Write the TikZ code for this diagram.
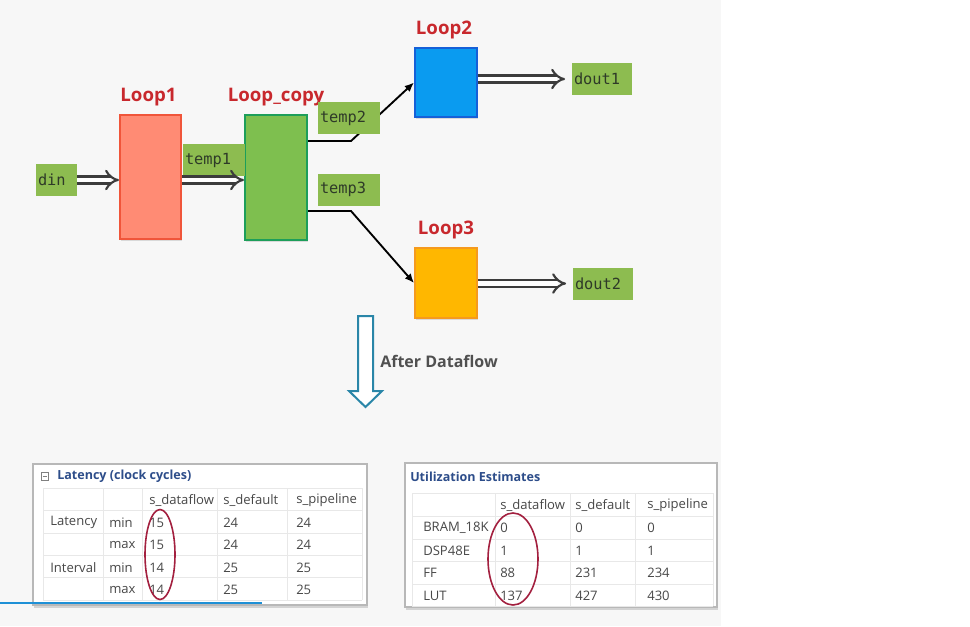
\documentclass[tikz,border=0pt]{standalone}
\usepackage{fontspec}
\setmainfont{Open Sans}
\setmonofont{DejaVu Sans Mono}
\usetikzlibrary{arrows.meta,shadows,calc}
\definecolor{pagebg}{HTML}{F7F7F7}
\definecolor{loopred}{HTML}{C8282D}
\definecolor{lafill}{HTML}{FF8B74}
\definecolor{ladraw}{HTML}{F0553A}
\definecolor{lcfill}{HTML}{7EBF4F}
\definecolor{lcdraw}{HTML}{1D9E5A}
\definecolor{lbfill}{HTML}{0A9BF0}
\definecolor{lbdraw}{HTML}{1560D8}
\definecolor{ldfill}{HTML}{FFB700}
\definecolor{lddraw}{HTML}{F59A1E}
\definecolor{lblgreen}{HTML}{8DBC50}
\definecolor{lbltext}{HTML}{2E3A28}
\definecolor{arrgray}{HTML}{3C3C3C}
\definecolor{downteal}{HTML}{2A86A8}
\definecolor{aftertext}{HTML}{505050}
\definecolor{tabtext}{HTML}{484848}
\definecolor{tabtitle}{HTML}{2D4D8A}
\definecolor{gridline}{HTML}{E8E8E8}
\definecolor{panelline}{HTML}{B8B8B8}
\definecolor{circred}{HTML}{A3203F}
\definecolor{barblue}{HTML}{1E90D6}
\pgfdeclarelayer{bg}
\pgfdeclarelayer{back}
\pgfsetlayers{bg,back,main}
\tikzset{
  loopbox/.style={draw, line width=1.5pt, inner sep=0pt,
    drop shadow={opacity=0.25, shadow xshift=1pt, shadow yshift=-1.5pt}},
  looplbl/.style={font=\bfseries\fontsize{14}{16}\selectfont, text=loopred, anchor=south, inner sep=1pt},
  sig/.style={fill=lblgreen, text=lbltext, font=\ttfamily\fontsize{11.5}{13}\selectfont,
    text width=#1, align=left, inner xsep=1.5pt, inner ysep=0pt, minimum height=24pt},
  dbl/.style={draw=arrgray, double=white, line width=1.6pt, double distance=3.6pt, -{Implies[scale=1.25]}},
  conn/.style={draw=black, line width=1.4pt, -{Latex[length=7pt,width=6pt]}},
  tcell/.style={anchor=west, font=\fontsize{9.8}{11}\selectfont, text=tabtext, inner sep=0pt},
  ttitle/.style={anchor=west, font=\bfseries\fontsize{9.4}{11}\selectfont, text=tabtitle, inner sep=0pt},
  panel/.style={draw=panelline, fill=white, line width=0.8pt,
    drop shadow={opacity=0.3, shadow xshift=1pt, shadow yshift=-2pt}},
  grid/.style={draw=gridline, line width=0.6pt},
  circ/.style={draw=circred, line width=1.2pt}
}
\begin{document}
\begin{tikzpicture}[x=0.75pt, y=-0.75pt]
\useasboundingbox (0,0) rectangle (970,626);
\begin{pgfonlayer}{bg}
  \fill[white] (0,0) rectangle (970,626);
  \fill[pagebg] (0,0) rectangle (721,626);
\end{pgfonlayer}

% loop boxes
\node[loopbox, draw=ladraw, fill=lafill, minimum width=45.75pt, minimum height=93pt] (l1) at (150.5,177) {};
\node[loopbox, draw=lcdraw, fill=lcfill, minimum width=46.5pt, minimum height=93.75pt] (lc) at (276,177.5) {};
\node[loopbox, draw=lbdraw, fill=lbfill, minimum width=46.5pt, minimum height=51.75pt] (l2) at (446,82.5) {};
\node[loopbox, draw=lddraw, fill=ldfill, minimum width=46.5pt, minimum height=52.5pt] (l3) at (446,283) {};

\node[looplbl] (l1t) at ([xshift=-1.5pt,yshift=5pt]l1.north) {Loop1};
\node[looplbl] (lct) at ([yshift=5pt]lc.north) {Loop\_copy};
\node[looplbl] (l2t) at ([xshift=-1.5pt,yshift=5pt]l2.north) {Loop2};
\node[looplbl] (l3t) at ([yshift=5pt]l3.north) {Loop3};

% signal labels
\node[sig=27.75pt] (din) at (56.5,180) {din};
\node[sig=43.5pt] (t1) at (214,160) {temp1};
\node[sig=43.5pt] (t2) at (349,118) {temp2};
\node[sig=43.5pt] (t3) at (349,189.5) {temp3};
\node[sig=42pt] (d1) at (602,79) {dout1};
\node[sig=42pt] (d2) at (603,283.5) {dout2};

% thin connectors (under labels)
\coordinate (b1) at (351,141);
\coordinate (b2) at (351,211);
\begin{pgfonlayer}{back}
  \draw[conn] (lc.east |- b1) -- (b1) -- (l2.west);
  \draw[conn] (lc.east |- b2) -- (b2) -- (l3.west);
\end{pgfonlayer}

% double (stream) arrows
\draw[dbl] (din.east) -- (din.east -| l1.west);
\draw[dbl] (l1.east |- din.east) -- (lc.west |- din.east);
\draw[dbl, shorten >=5pt] (l2.east |- d1.west) -- (d1.west);
\draw[dbl, shorten >=5pt] (l3.east |- d2.west) -- (d2.west);

% after dataflow arrow
\draw[downteal, line width=1.5pt, fill=white, line join=miter]
  (358,316) -- (373,316) -- (373,391) -- (382,391) -- (365.5,407) -- (349,391) -- (358,391) -- cycle;
\node[anchor=west, font=\bfseries\fontsize{12}{14}\selectfont, text=aftertext, inner sep=0pt] (after) at (380,361) {After Dataflow};

% ---------------- Latency table ----------------
\path[panel] (33,464) rectangle (367,605);
\node[draw=gray, line width=0.6pt, minimum size=5.5pt, inner sep=0pt] (icon) at (45,476.5) {};
\draw[gray, line width=0.6pt] ([xshift=1.2pt]icon.west) -- ([xshift=-1.2pt]icon.east);
\node[ttitle] (lattitle) at (57,476.5) {Latency (clock cycles)};
\foreach \x in {43,103,142,217,287,362} \draw[grid] (\x,488) -- (\x,600);
\foreach \y in {488,510,533,555,577,600} \draw[grid] (43,\y) -- (362,\y);
\node[tcell] (lat-0-3) at (149,500) {s\_dataflow};
\node[tcell] (lat-0-4) at (223,500) {s\_default};
\node[tcell] (lat-0-5) at (296,500) {s\_pipeline};
\foreach \r/\y/\a/\b/\c/\d/\e in {1/522.5/Latency/min/15/24/24, 2/545//max/15/24/24, 3/567.5/Interval/min/14/25/25, 4/590//max/14/25/25} {
  \node[tcell] (lat-\r-1) at (50,\y) {\a};
  \node[tcell] (lat-\r-2) at (109,\y) {\b};
  \node[tcell] (lat-\r-3) at (149,\y) {\c};
  \node[tcell] (lat-\r-4) at (223,\y) {\d};
  \node[tcell] (lat-\r-5) at (296,\y) {\e};
}
\draw[circ] (160,554.5) ellipse [x radius=15, y radius=45];
\draw[barblue, line width=1.6pt] (0,603) -- (262,603);

% ---------------- Utilization table ----------------
\path[panel] (405,463) rectangle (717,607);
\node[ttitle] (utitle) at (410,477) {Utilization Estimates};
\foreach \x in {412,495,570,635,713} \draw[grid] (\x,493) -- (\x,606);
\foreach \y in {493,516,539,561,584,606} \draw[grid] (412,\y) -- (713,\y);
\node[tcell] (ut-0-2) at (500,505) {s\_dataflow};
\node[tcell] (ut-0-3) at (575,505) {s\_default};
\node[tcell] (ut-0-4) at (647,505) {s\_pipeline};
\foreach \r/\y/\a/\b/\c/\d in {1/528/BRAM\_18K/0/0/0, 2/550.5/DSP48E/1/1/1, 3/573/FF/88/231/234, 4/595.5/LUT/137/427/430} {
  \node[tcell] (ut-\r-1) at (423,\y) {\a};
  \node[tcell] (ut-\r-2) at (500,\y) {\b};
  \node[tcell] (ut-\r-3) at (575,\y) {\c};
  \node[tcell] (ut-\r-4) at (647,\y) {\d};
}
\draw[circ] (513,559) ellipse [x radius=25, y radius=46];
\end{tikzpicture}
\end{document}
